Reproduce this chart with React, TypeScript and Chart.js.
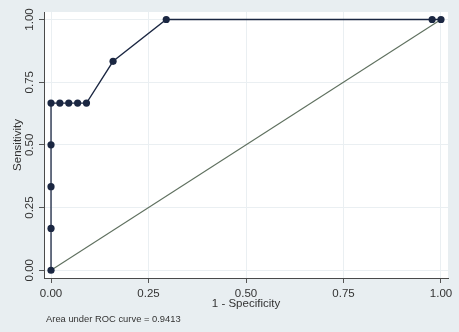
import React, { useEffect, useRef } from "react";
import { Chart, registerables } from "chart.js";

Chart.register(...registerables);

// ROC curve points (1 - specificity, sensitivity)
const fpr = [0, 0, 0, 0, 0, 0.0227, 0.0455, 0.0682, 0.0909, 0.1591, 0.2955, 0.9773, 1];
const tpr = [0, 0.1667, 0.3333, 0.5, 0.6667, 0.6667, 0.6667, 0.6667, 0.6667, 0.8333, 1, 1, 1];
// reference (chance) line
const refX = [0, 1];
const refY = [0, 1];
// tick values
const xTicks = [0, 0.25, 0.5, 0.75, 1];
const yTicks = [0, 0.25, 0.5, 0.75, 1];
const aucText = "Area under ROC curve = 0.9413";

const FONT = "'Liberation Sans', Arial, Helvetica, sans-serif";
const NAVY = "#1b2742";
const REF = "#5f705f";
const BG = "#e8eef1";

export default function App() {
  const ref = useRef<HTMLCanvasElement | null>(null);

  useEffect(() => {
    if (!ref.current) return;
    const bgPlugin = {
      id: "bgPlugin",
      beforeDraw(chart: any) {
        const { ctx, chartArea } = chart;
        ctx.save();
        ctx.fillStyle = BG;
        ctx.fillRect(0, 0, chart.width, chart.height);
        ctx.fillStyle = "#ffffff";
        ctx.fillRect(chartArea.left, chartArea.top, chartArea.right - chartArea.left, chartArea.bottom - chartArea.top);
        ctx.restore();
      },
      afterDraw(chart: any) {
        const { ctx } = chart;
        ctx.save();
        ctx.fillStyle = "#333333";
        ctx.font = `9.4px ${FONT}`;
        ctx.textBaseline = "middle";
        ctx.textAlign = "left";
        ctx.fillText(aucText, 46, 319);
        ctx.restore();
      },
    };

    const chart = new Chart(ref.current, {
      type: "scatter",
      data: {
        datasets: [
          {
            label: "ROC",
            data: fpr.map((x, i) => ({ x, y: tpr[i] })),
            showLine: true,
            borderColor: NAVY,
            borderWidth: 1.3,
            backgroundColor: NAVY,
            pointBackgroundColor: NAVY,
            pointBorderColor: NAVY,
            pointBorderWidth: 0,
            pointRadius: 3.6,
            tension: 0,
          },
          {
            label: "Reference",
            data: refX.map((x, i) => ({ x, y: refY[i] })),
            showLine: true,
            borderColor: REF,
            borderWidth: 1.1,
            pointRadius: 0,
            tension: 0,
          },
        ],
      },
      options: {
        animation: false,
        responsive: false,
        events: [],
        layout: { padding: { left: 0, top: 12, right: 11, bottom: 0 } },
        plugins: { legend: { display: false }, tooltip: { enabled: false } },
        scales: {
          x: {
            type: "linear",
            min: -0.018,
            max: 1.018,
            afterBuildTicks: (s: any) => {
              s.ticks = xTicks.map((v) => ({ value: v }));
            },
            afterFit: (s: any) => {
              s.height = 54;
            },
            grid: { color: "#eaeff2", lineWidth: 1, tickColor: "#555555", tickLength: 5, drawTicks: true },
            border: { display: true, color: "#4a4a4a", width: 1 },
            ticks: {
              color: "#333333",
              font: { family: FONT, size: 11.5 },
              padding: 3.5,
              maxRotation: 0,
              autoSkip: false,
              callback: (v: any) => Number(v).toFixed(2),
            },
            title: {
              display: true,
              text: "1 - Specificity",
              color: "#333333",
              font: { family: FONT, size: 11.5 },
              padding: { top: 0, bottom: 21 },
            },
          },
          y: {
            type: "linear",
            min: -0.031,
            max: 1.03,
            afterBuildTicks: (s: any) => {
              s.ticks = yTicks.map((v) => ({ value: v }));
            },
            afterFit: (s: any) => {
              s.width = 44;
            },
            grid: { color: "#eaeff2", lineWidth: 1, tickColor: "#555555", tickLength: 5, drawTicks: true },
            border: { display: true, color: "#4a4a4a", width: 1 },
            ticks: {
              color: "#333333",
              font: { family: FONT, size: 11.5 },
              padding: -2,
              minRotation: 90,
              maxRotation: 90,
              crossAlign: "center",
              autoSkip: false,
              callback: (v: any) => Number(v).toFixed(2),
            },
            title: {
              display: true,
              text: "Sensitivity",
              color: "#333333",
              font: { family: FONT, size: 11.5 },
              padding: { top: 11.4, bottom: 0 },
            },
          },
        },
      } as any,
      plugins: [bgPlugin],
    });
    return () => chart.destroy();
  }, []);

  return (
    <div style={{ position: "fixed", left: 0, top: 0, width: 459, height: 332 }}>
      <canvas ref={ref} width={459} height={332} style={{ display: "block" }} />
    </div>
  );
}
